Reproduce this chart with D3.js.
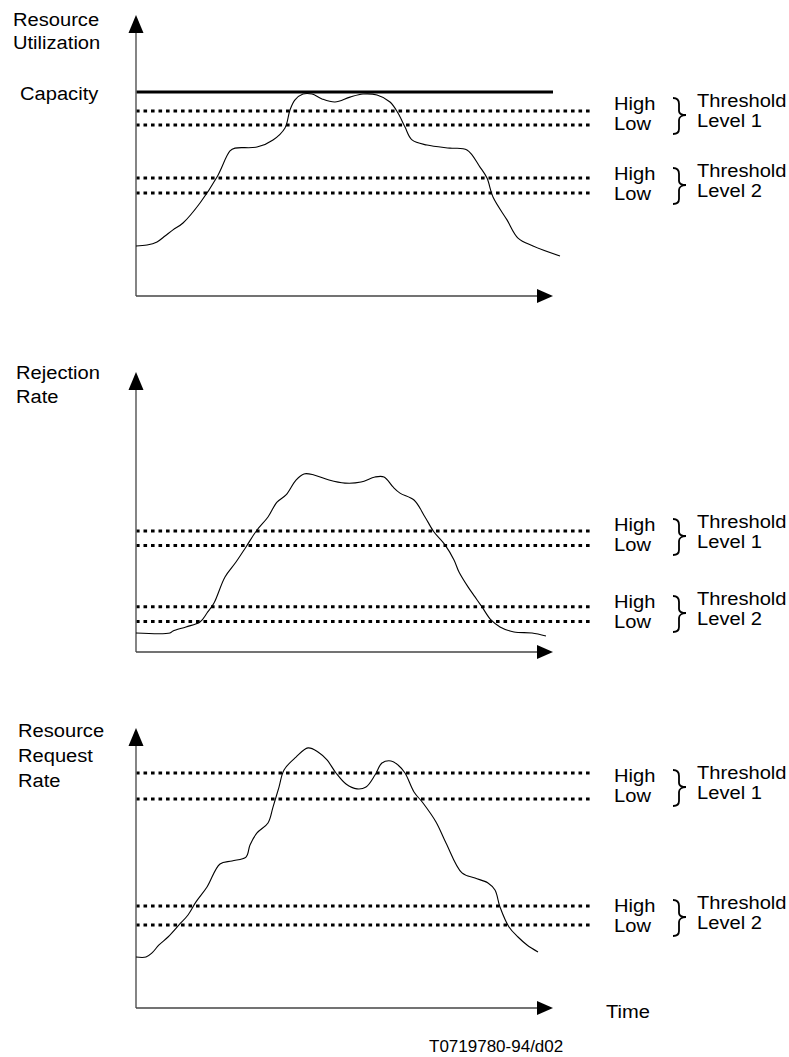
<!DOCTYPE html>
<html><head><meta charset="utf-8">
<script src="https://cdn.jsdelivr.net/npm/d3@7"></script>
<style>
body{margin:0;background:#fff}
svg{display:block}
text{font-family:"Liberation Sans",Arial,Helvetica,sans-serif;fill:#000}
</style>
</head><body>
<svg id="chart" width="789" height="1057"></svg>
<script>
// ---------- DATA (time 0-100, value in % of panel scale) ----------
const utilization = [[0,24.5],[2.75,25],[5.25,26.5],[7.25,29.4],[9.25,32.4],[11.75,35.8],[16,45.6],[20.25,58.3],[23.5,71.1],[24.75,72.5],[30.25,73],[34.25,76.5],[37.25,82.4],[38.5,91.2],[39.75,96.1],[41.75,99],[44,99],[46.5,96.6],[49.75,95.1],[53.5,97.5],[56.75,99],[60.25,98.5],[63.5,95.1],[65.5,89.7],[67.25,82.8],[69,76.5],[72.75,74],[78.5,72.5],[82.75,71.6],[86,63.2],[87.75,57.8],[89.25,48.5],[92.75,37.3],[95.5,28.4],[99.25,24.5],[106,19.6]];
const rejectionRate = [[0,9.3],[8.5,9.3],[9.25,10.3],[12.5,12.3],[16,14.7],[17.75,19.1],[19.5,24],[22.25,36.8],[25,44.1],[27.5,51.5],[30.25,59.8],[33,66.2],[35.25,73.5],[37.5,77],[40,84.3],[42,87.3],[44.5,86.8],[48.25,84.3],[52.25,82.8],[56.25,83.3],[59.75,85.8],[62,85.8],[64.25,80.9],[66,77.9],[69.5,74.5],[72.25,66.2],[74.5,58.8],[77.25,52.5],[79.5,45.1],[80.75,39.2],[83,31.9],[84.75,27],[86.5,22.1],[88.75,15.7],[91,12.3],[94.5,9.8],[99,9.3],[102.5,7.8]];
const requestRate = [[0,25],[2.5,25],[4,27],[5.75,30.9],[8,34.8],[10.75,40.7],[13,45.6],[15,52],[17.75,59.3],[21,70.6],[24,72.1],[27.5,74],[28.5,79.9],[30.25,85.8],[33,90.7],[34.25,98.5],[35.75,108.3],[37,116.7],[40,123],[43,127.5],[45.5,125.5],[47.75,121.6],[50,115.2],[52.5,109.8],[55.25,107.4],[57.5,108.3],[59.75,114.2],[61.5,120.1],[63.75,121.1],[65.5,119.1],[67.25,115.2],[69.5,105.9],[71.75,100.5],[75,91.2],[77.5,80.9],[81.5,66.2],[84.75,63.7],[88,61.3],[89.75,57.8],[91,49.5],[93.25,39.7],[95.5,34.8],[97.75,30.9],[100.5,27.5]];

const capacity = 100;
// thresholds: [High L1, Low L1, High L2, Low L2]
const utilThresholds = [90.7, 83.8, 57.8, 50.5];
const rejectionThresholds = [59.3, 52.2, 22.2, 15.0];
const requestThresholds = [115.2, 102.5, 50, 40.7];

const panelTitles = [["Resource","Utilization"],["Rejection","Rate"],["Resource","Request","Rate"]];
const levelNames = ["High","Low"];
const thresholdWords = ["Threshold"];
const levelLabels = ["Level 1","Level 2"];
const capacityLabel = "Capacity";
const xAxisLabel = "Time";
const figureId = "T0719780-94/d02";

// ---------- LAYOUT ----------
const svg = d3.select("#chart");
const x = d3.scaleLinear().domain([0,100]).range([136,536]);
const axisX0 = 136, axisXEnd = 553, dotEnd = 591;
const panels = [
  {data:utilization, th:utilThresholds, bottom:296, top:15, titleX:13, titleY:[26,49], labelHigh:[110,180], cap:true},
  {data:rejectionRate, th:rejectionThresholds, bottom:652, top:372, titleX:16, titleY:[379,403], labelHigh:[531,608]},
  {data:requestRate, th:requestThresholds, bottom:1008, top:728, titleX:18, titleY:[737,762,787], labelHigh:[782,912]}
];
const FS = 19, SX = 1.06;

function label(g, txt, px, py, size, sx){
  g.append("text").attr("transform",`translate(${px},${py}) scale(${sx||SX},1)`)
    .attr("font-size", size||FS).text(txt);
}

panels.forEach((p,i)=>{
  const y = d3.scaleLinear().domain([0,100]).range([p.bottom, p.bottom-204]);
  const g = svg.append("g");

  // threshold dotted lines
  p.th.forEach(v=>{
    g.append("line").attr("x1",axisX0).attr("x2",dotEnd)
      .attr("y1",y(v)).attr("y2",y(v))
      .attr("stroke","#000").attr("stroke-width",3).attr("stroke-dasharray","3.6 3.9");
  });

  // capacity line
  if(p.cap){
    g.append("line").attr("x1",axisX0).attr("x2",axisXEnd)
      .attr("y1",y(capacity)).attr("y2",y(capacity))
      .attr("stroke","#000").attr("stroke-width",3.2);
    label(g, capacityLabel, 20, 100);
  }

  // axes
  g.append("line").attr("x1",axisX0).attr("x2",axisX0).attr("y1",p.bottom).attr("y2",p.top+16)
    .attr("stroke","#666").attr("stroke-width",1.6);
  g.append("line").attr("x1",axisX0).attr("x2",axisXEnd-14).attr("y1",p.bottom).attr("y2",p.bottom)
    .attr("stroke","#444").attr("stroke-width",1.4);
  g.append("path").attr("d",`M${axisX0},${p.top} L${axisX0-7.5},${p.top+18} L${axisX0+7.5},${p.top+18} Z`).attr("fill","#000");
  g.append("path").attr("d",`M${axisXEnd},${p.bottom} L${axisXEnd-16},${p.bottom-7} L${axisXEnd-16},${p.bottom+7} Z`).attr("fill","#000");

  // curve
  const line = d3.line().x(d=>x(d[0])).y(d=>y(d[1])).curve(d3.curveCatmullRom.alpha(0.5));
  g.append("path").datum(p.data).attr("d",line)
    .attr("fill","none").attr("stroke","#000").attr("stroke-width",1.1);

  // titles
  panelTitles[i].forEach((t,k)=> label(g, t, p.titleX, p.titleY[k]));

  // threshold labels
  p.labelHigh.forEach((hy,k)=>{
    label(g, levelNames[0], 614, hy);
    label(g, levelNames[1], 614, hy+20);
    label(g, thresholdWords[0], 697, hy-3);
    label(g, levelLabels[k], 697, hy+17);
    const b = 673;
    g.append("path")
      .attr("d",`M${b},${hy-12} C${b+4},${hy-12} ${b+6},${hy-10} ${b+6},${hy-6} L${b+6},${hy+1} C${b+6},${hy+4} ${b+9},${hy+5} ${b+13},${hy+5} C${b+9},${hy+5} ${b+6},${hy+7} ${b+6},${hy+10} L${b+6},${hy+19} C${b+6},${hy+23} ${b+4},${hy+24} ${b},${hy+24}`)
      .attr("fill","none").attr("stroke","#000").attr("stroke-width",1.8);
  });
});

label(svg, xAxisLabel, 606, 1018);
label(svg, figureId, 429, 1052, 17, 1.0);
</script>
</body></html>
